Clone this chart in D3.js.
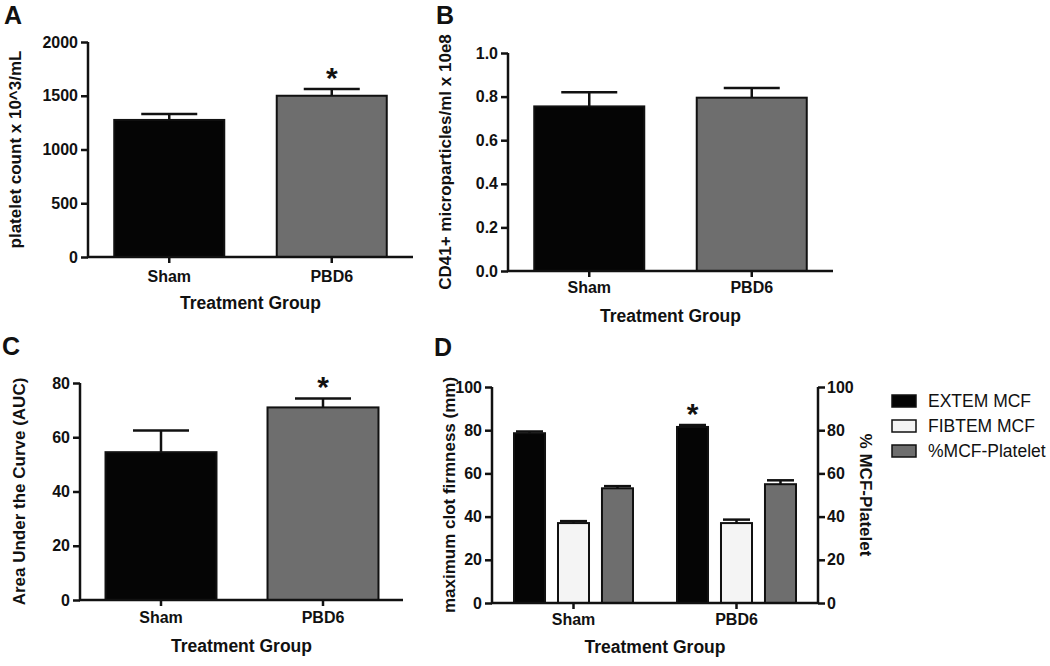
<!DOCTYPE html>
<html>
<head>
<meta charset="utf-8">
<script src="https://cdn.jsdelivr.net/npm/d3@7"></script>
<style>
  html, body { margin: 0; padding: 0; background: #fff; }
  svg { display: block; font-family: "Liberation Sans", Arial, sans-serif; }
</style>
</head>
<body>
<svg id="chart" width="1050" height="666"></svg>
<script>
// ---------------- data ----------------
const categories = ["Sham", "PBD6"];
const xAxisTitle = "Treatment Group";

// Panel A
const plateletMean = [1275, 1500];
const plateletErr = [55, 63];
const plateletSig = [false, true];
const plateletTicks = [0, 500, 1000, 1500, 2000];

// Panel B
const cd41Mean = [0.755, 0.795];
const cd41Err = [0.065, 0.045];
const cd41Sig = [false, false];
const cd41Ticks = [0, 0.2, 0.4, 0.6, 0.8, 1.0];

// Panel C
const aucMean = [54.5, 71];
const aucErr = [8, 3.3];
const aucSig = [false, true];
const aucTicks = [0, 20, 40, 60, 80];

// Panel D
const mcfSeries = ["EXTEM MCF", "FIBTEM MCF", "%MCF-Platelet"];
const extemMean = [78.6, 81.5];
const extemErr = [0.8, 0.9];
const fibtemMean = [37, 37];
const fibtemErr = [0.9, 1.6];
const pctPlateletMean = [53.1, 55];
const pctPlateletErr = [1.0, 1.8];
const extemSig = [false, true];
const mcfTicks = [0, 20, 40, 60, 80, 100];

// ---------------- styles ----------------
const BLACK = "#050505", GRAY = "#6e6e6e", WHITE = "#f4f4f4";
const FONT_BOLD = 700;

const svg = d3.select("#chart");

function panelLetter(t, x, y) {
  svg.append("text").attr("x", x).attr("y", y).text(t)
    .attr("font-size", 25).attr("font-weight", FONT_BOLD).attr("fill", "#111");
}

function yAxisLeft(g, y, x, ticks, fmt) {
  const ax = d3.axisLeft(y).tickValues(ticks).tickSize(7).tickPadding(3).tickFormat(fmt);
  const a = g.append("g").attr("transform", `translate(${x},0)`).call(ax);
  a.select(".domain").attr("stroke", "#111").attr("stroke-width", 2.5)
    .attr("d", `M0,${y.range()[0]}V${y.range()[1]}`);
  a.selectAll(".tick line").attr("stroke", "#111").attr("stroke-width", 2.5);
  a.selectAll(".tick text").attr("font-size", 16).attr("font-weight", FONT_BOLD)
    .attr("fill", "#111").attr("font-family", "Liberation Sans, Arial, sans-serif");
  return a;
}

function yAxisRight(g, y, x, ticks, fmt) {
  const ax = d3.axisRight(y).tickValues(ticks).tickSize(7).tickPadding(2).tickFormat(fmt);
  const a = g.append("g").attr("transform", `translate(${x},0)`).call(ax);
  a.select(".domain").attr("stroke", "#111").attr("stroke-width", 2.5)
    .attr("d", `M0,${y.range()[0]}V${y.range()[1]}`);
  a.selectAll(".tick line").attr("stroke", "#111").attr("stroke-width", 2.5);
  a.selectAll(".tick text").attr("font-size", 16).attr("font-weight", FONT_BOLD)
    .attr("fill", "#111").attr("font-family", "Liberation Sans, Arial, sans-serif");
}

function xAxis(g, x, y0, xStart, xEnd, labelDy, titleDy) {
  g.append("line").attr("x1", xStart - 1).attr("x2", xEnd).attr("y1", y0).attr("y2", y0)
    .attr("stroke", "#111").attr("stroke-width", 2.5);
  const ax = d3.axisBottom(x).tickSize(6).tickSizeOuter(0).tickPadding(0);
  const a = g.append("g").attr("transform", `translate(0,${y0})`).call(ax);
  a.select(".domain").remove();
  a.selectAll(".tick line").attr("stroke", "#111").attr("stroke-width", 2.5);
  a.selectAll(".tick text").attr("font-size", 16).attr("font-weight", FONT_BOLD)
    .attr("fill", "#111").attr("dy", null).attr("y", labelDy)
    .attr("font-family", "Liberation Sans, Arial, sans-serif");
  g.append("text").attr("x", (xStart + xEnd) / 2).attr("y", y0 + titleDy)
    .attr("text-anchor", "middle").attr("font-size", 17.5).attr("font-weight", FONT_BOLD)
    .attr("fill", "#111").text(xAxisTitle);
}

function yTitle(g, text, cx, cy, rot) {
  g.append("text").attr("transform", `translate(${cx},${cy}) rotate(${rot})`)
    .attr("text-anchor", "middle").attr("dominant-baseline", "central")
    .attr("font-size", 17).attr("font-weight", FONT_BOLD).attr("fill", "#111").text(text);
}

function errorBar(g, cx, yTop, yCap, half) {
  g.append("line").attr("x1", cx).attr("x2", cx).attr("y1", yTop).attr("y2", yCap)
    .attr("stroke", "#111").attr("stroke-width", 2.5);
  g.append("line").attr("x1", cx - half).attr("x2", cx + half).attr("y1", yCap).attr("y2", yCap)
    .attr("stroke", "#111").attr("stroke-width", 2.5);
}

function star(g, cx, yCap) {
  g.append("text").attr("x", cx).attr("y", yCap - 1).attr("text-anchor", "middle")
    .attr("font-size", 30).attr("font-weight", FONT_BOLD).attr("fill", "#111").text("*");
}

function simplePanel(opt) {
  const g = svg.append("g");
  const y = d3.scaleLinear().domain([0, opt.ticks[opt.ticks.length - 1]]).range([opt.y0, opt.y1]);
  const x = d3.scaleBand().domain(categories).range(opt.band).paddingInner(opt.pad).paddingOuter(opt.pad / 2);
  const colors = [BLACK, GRAY];
  categories.forEach((c, i) => {
    const bx = x(c), bw = x.bandwidth();
    g.append("rect").attr("x", bx).attr("y", y(opt.mean[i])).attr("width", bw)
      .attr("height", y(0) - y(opt.mean[i])).attr("fill", colors[i])
      .attr("stroke", "#111").attr("stroke-width", 2);
    const cx = bx + bw / 2;
    errorBar(g, cx, y(opt.mean[i]), y(opt.mean[i] + opt.err[i]), 28);
    if (opt.sig[i]) star(g, cx, y(opt.mean[i] + opt.err[i]));
  });
  yAxisLeft(g, y, opt.yAxisX, opt.ticks, opt.fmt);
  xAxis(g, x, opt.y0, opt.yAxisX, opt.xEnd, opt.labelDy, opt.titleDy);
  yTitle(g, opt.title, opt.titleX, (opt.y0 + opt.y1) / 2, -90);
}

// Panel A
panelLetter("A", 4, 24);
simplePanel({
  mean: plateletMean, err: plateletErr, sig: plateletSig, ticks: plateletTicks,
  fmt: d3.format("d"), y0: 257, y1: 42, band: [88, 413], pad: 0.323,
  yAxisX: 88, xEnd: 413, labelDy: 25, titleDy: 52,
  title: "platelet count x 10^3/mL", titleX: 15
});

// Panel B
panelLetter("B", 436, 24);
simplePanel({
  mean: cd41Mean, err: cd41Err, sig: cd41Sig, ticks: cd41Ticks,
  fmt: d3.format(".1f"), y0: 271, y1: 53, band: [508, 833], pad: 0.323,
  yAxisX: 508, xEnd: 833, labelDy: 22, titleDy: 51,
  title: "CD41+ microparticles/ml x 10e8", titleX: 445
});

// Panel C
panelLetter("C", 2, 355);
simplePanel({
  mean: aucMean, err: aucErr, sig: aucSig, ticks: aucTicks,
  fmt: d3.format("d"), y0: 600, y1: 383, band: [80, 404], pad: 0.315,
  yAxisX: 80, xEnd: 403, labelDy: 23, titleDy: 52,
  title: "Area Under the Curve (AUC)", titleX: 19
});

// Panel D
panelLetter("D", 434, 356);
(function () {
  const g = svg.append("g");
  const y = d3.scaleLinear().domain([0, 100]).range([603, 387]);
  const x = d3.scaleBand().domain(categories).range([492, 818]).paddingInner(0.27).paddingOuter(0.135);
  const xs = d3.scaleBand().domain(mcfSeries).range([0, x.bandwidth()]).paddingInner(0.295).paddingOuter(0);
  const means = [extemMean, fibtemMean, pctPlateletMean];
  const errs = [extemErr, fibtemErr, pctPlateletErr];
  const cols = [BLACK, WHITE, GRAY];
  categories.forEach((c, i) => {
    mcfSeries.forEach((s, j) => {
      const bx = x(c) + xs(s), bw = xs.bandwidth();
      const v = means[j][i];
      g.append("rect").attr("x", bx).attr("y", y(v)).attr("width", bw)
        .attr("height", y(0) - y(v)).attr("fill", cols[j])
        .attr("stroke", "#111").attr("stroke-width", 2);
      const cx = bx + bw / 2;
      errorBar(g, cx, y(v), y(v + errs[j][i]), bw / 2 - 2);
      if (j === 0 && extemSig[i]) star(g, cx, y(v + errs[j][i]));
    });
  });
  yAxisLeft(g, y, 492, mcfTicks, d3.format("d"));
  yAxisRight(g, y, 818, mcfTicks, d3.format("d"));
  xAxis(g, x, 603, 492, 818, 22, 50);
  yTitle(g, "maximum clot firmness (mm)", 449, 495, -90);
  yTitle(g, "% MCF-Platelet", 865, 495, 90);

  // legend
  const lg = svg.append("g");
  mcfSeries.forEach((s, j) => {
    const yy = 395 + j * 25;
    lg.append("rect").attr("x", 892).attr("y", yy).attr("width", 24).attr("height", 12)
      .attr("fill", cols[j]).attr("stroke", "#111").attr("stroke-width", 1.5);
    lg.append("text").attr("x", 928).attr("y", yy + 6).attr("dominant-baseline", "central")
      .attr("font-size", 17.5).attr("fill", "#111").text(s);
  });
})();
</script>
</body>
</html>
